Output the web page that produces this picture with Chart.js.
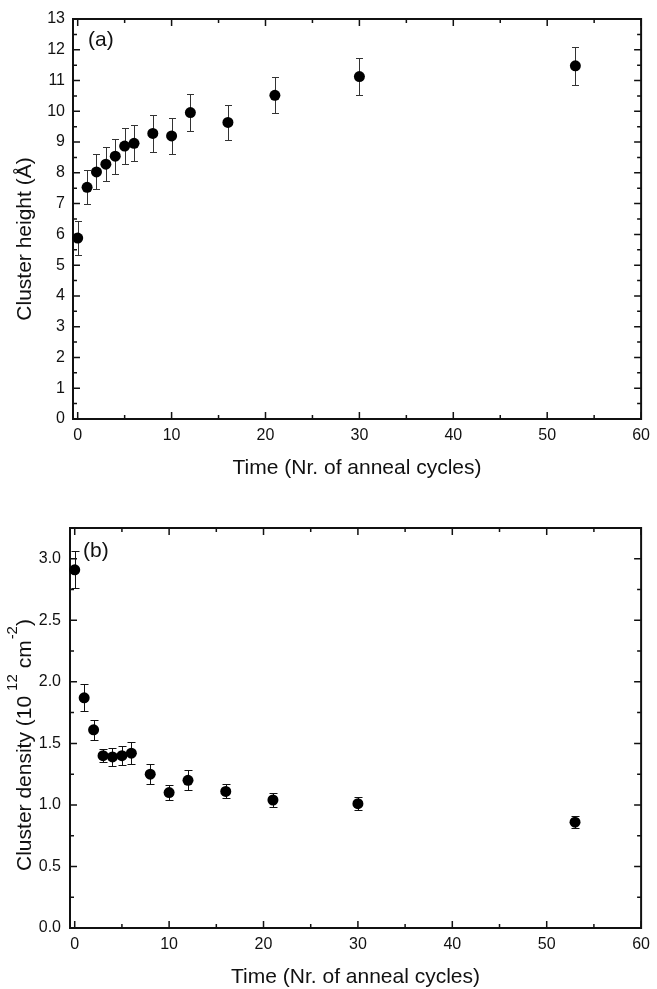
<!DOCTYPE html>
<html>
<head>
<meta charset="utf-8">
<script src="https://cdn.jsdelivr.net/npm/chart.js@4"></script>
<style>
body { margin: 0; background: #fff; }
#wrap { position: relative; width: 657px; height: 989px; }
canvas { position: absolute; left: 0; }
</style>
</head>
<body>
<div id="wrap">
  <canvas id="chartA" width="657" height="495" style="top:0"></canvas>
  <canvas id="chartB" width="657" height="494" style="top:495px"></canvas>
</div>
<script>
// anneal cycles and the two measured quantities
const cycles = [0, 1, 2, 3, 4, 5, 6, 8, 10, 12, 16, 21, 30, 53];
const clusterHeight = [5.88, 7.53, 8.03, 8.28, 8.54, 8.87, 8.96, 9.28, 9.20, 9.96, 9.64, 10.52, 11.13, 11.48];
const heightErr = [0.55, 0.55, 0.57, 0.56, 0.57, 0.58, 0.59, 0.60, 0.58, 0.61, 0.58, 0.59, 0.60, 0.61];
const clusterDensity = [2.91, 1.87, 1.61, 1.40, 1.39, 1.40, 1.42, 1.25, 1.10, 1.20, 1.11, 1.04, 1.01, 0.86];
const densityErr = [0.15, 0.11, 0.084, 0.052, 0.075, 0.075, 0.09, 0.083, 0.058, 0.08, 0.056, 0.057, 0.054, 0.051];

const xTicks = [0, 10, 20, 30, 40, 50, 60];
const heightTicks = [0, 1, 2, 3, 4, 5, 6, 7, 8, 9, 10, 11, 12, 13];
const densityTicks = [0, 0.5, 1.0, 1.5, 2.0, 2.5, 3.0];

const FONT = "'Liberation Sans', Arial, sans-serif";
const INK = '#111';

// halfway points between major ticks
const minorOf = ticks => ticks.slice(1).map((v, i) => (v + ticks[i]) / 2);

const errorBars = {
  id: 'errorBars',
  beforeDatasetsDraw(chart, args, opts) {
    const { ctx, scales: { x, y } } = chart;
    const pts = chart.data.datasets[0].data;
    ctx.save();
    ctx.strokeStyle = opts.color;
    ctx.lineWidth = 1;
    pts.forEach((p, i) => {
      const px = Math.round(x.getPixelForValue(p.x)) + 0.5;
      const hi = Math.round(y.getPixelForValue(p.y + opts.err[i])) + 0.5;
      const lo = Math.round(y.getPixelForValue(p.y - opts.err[i])) + 0.5;
      ctx.beginPath();
      ctx.moveTo(px, hi); ctx.lineTo(px, lo);
      ctx.moveTo(px - opts.cap, hi); ctx.lineTo(px + opts.cap, hi);
      ctx.moveTo(px - opts.cap, lo); ctx.lineTo(px + opts.cap, lo);
      ctx.stroke();
    });
    ctx.restore();
  }
};

// box round the plot with inward ticks on all four sides
const frame = {
  id: 'frame',
  beforeDatasetsDraw(chart, args, opts) {
    const { ctx, chartArea: a, scales: { x, y } } = chart;
    ctx.save();
    ctx.strokeStyle = INK;
    ctx.lineWidth = 2;
    ctx.strokeRect(a.left, a.top, a.right - a.left, a.bottom - a.top);
    ctx.lineWidth = 1.5;
    ctx.beginPath();
    const xt = (v, len) => {
      const px = x.getPixelForValue(v);
      ctx.moveTo(px, a.bottom); ctx.lineTo(px, a.bottom - len);
      ctx.moveTo(px, a.top); ctx.lineTo(px, a.top + len);
    };
    const yt = (v, len) => {
      const py = y.getPixelForValue(v);
      ctx.moveTo(a.left, py); ctx.lineTo(a.left + len, py);
      ctx.moveTo(a.right, py); ctx.lineTo(a.right - len, py);
    };
    opts.xMajor.forEach(v => xt(v, 7));
    minorOf(opts.xMajor).forEach(v => xt(v, 4));
    opts.yMajor.forEach(v => yt(v, 7));
    opts.yMinor.forEach(v => yt(v, 4));
    ctx.stroke();
    ctx.restore();
  }
};

// axis titles and panel letter
const captions = {
  id: 'captions',
  afterDraw(chart, args, opts) {
    const { ctx, chartArea: a } = chart;
    ctx.save();
    ctx.fillStyle = INK;
    ctx.font = '21px ' + FONT;
    ctx.textBaseline = 'alphabetic';
    ctx.textAlign = 'left';
    ctx.fillText(opts.panel, a.left + opts.panelDx, a.top + opts.panelDy);

    ctx.textAlign = 'center';
    ctx.fillText('Time (Nr. of anneal cycles)', (a.left + a.right) / 2, a.bottom + 55);

    // rotated y title, pieces may be raised as superscripts
    ctx.translate(31, opts.yMid);
    ctx.rotate(-Math.PI / 2);
    ctx.textAlign = 'left';
    const big = '21px ' + FONT, small = '15px ' + FONT;
    const width = s => { ctx.font = s.sup ? small : big; return ctx.measureText(s.t).width + (s.gap || 0); };
    const total = opts.yTitle.reduce((sum, s) => sum + width(s), 0);
    let cx = -total / 2;
    opts.yTitle.forEach(s => {
      const w = width(s);
      ctx.fillText(s.t, cx + (s.gap || 0), s.sup ? -14 : 0);
      cx += w;
    });
    ctx.restore();
  }
};

function panel(id, values, err, yTicks, yMax, cfg) {
  return new Chart(document.getElementById(id), {
    type: 'scatter',
    data: {
      datasets: [{
        data: cycles.map((c, i) => ({ x: c, y: values[i] })),
        pointRadius: 5.5,
        pointHoverRadius: 5.5,
        pointBackgroundColor: '#000',
        pointBorderWidth: 0,
        clip: false
      }]
    },
    options: {
      responsive: false,
      animation: false,
      layout: { padding: { top: cfg.top, right: cfg.right, left: 0, bottom: 0 } },
      plugins: {
        legend: { display: false },
        tooltip: { enabled: false },
        errorBars: { err: err, cap: cfg.cap, color: cfg.barColor },
        frame: { xMajor: xTicks, yMajor: yTicks, yMinor: cfg.yMinor },
        captions: { panel: cfg.panel, panelDx: cfg.panelDx, panelDy: cfg.panelDy, yMid: cfg.yMid, yTitle: cfg.yTitle }
      },
      scales: {
        x: {
          type: 'linear', min: -0.5, max: 60,
          afterBuildTicks: s => { s.ticks = xTicks.map(v => ({ value: v })); },
          afterFit: s => { s.height = cfg.xHeight; },
          grid: { display: false, drawTicks: false },
          border: { display: false },
          ticks: { padding: 7, color: INK, font: { family: FONT, size: 16 }, maxRotation: 0, autoSkip: false }
        },
        y: {
          type: 'linear', min: 0, max: yMax,
          afterBuildTicks: s => { s.ticks = yTicks.map(v => ({ value: v })); },
          afterFit: s => { s.width = cfg.yWidth; },
          grid: { display: false, drawTicks: false },
          border: { display: false },
          ticks: { padding: cfg.yPad, color: INK, font: { family: FONT, size: 16 }, autoSkip: false, callback: cfg.fmt }
        }
      }
    },
    plugins: [errorBars, frame, captions]
  });
}

panel('chartA', clusterHeight, heightErr, heightTicks, 13, {
  top: 19, right: 12, xHeight: 76, yWidth: 73, yPad: 8,
  cap: 3.5, barColor: '#333',
  yMinor: minorOf(heightTicks),
  fmt: v => String(v),
  panel: '(a)', panelDx: 15, panelDy: 27,
  yMid: 239,
  yTitle: [{ t: 'Cluster height (\u00C5)' }]
});

panel('chartB', clusterDensity, densityErr, densityTicks, 3.25, {
  top: 33, right: 14, xHeight: 61, yWidth: 70, yPad: 9,
  cap: 4, barColor: '#111',
  yMinor: minorOf(densityTicks),
  fmt: v => v.toFixed(1),
  panel: '(b)', panelDx: 13, panelDy: 29,
  yMid: 250,
  yTitle: [{ t: 'Cluster density (10' }, { t: '12', sup: true, gap: 5 }, { t: ' cm' }, { t: '-2', sup: true, gap: 1 }, { t: ')' }]
});
</script>
</body>
</html>
